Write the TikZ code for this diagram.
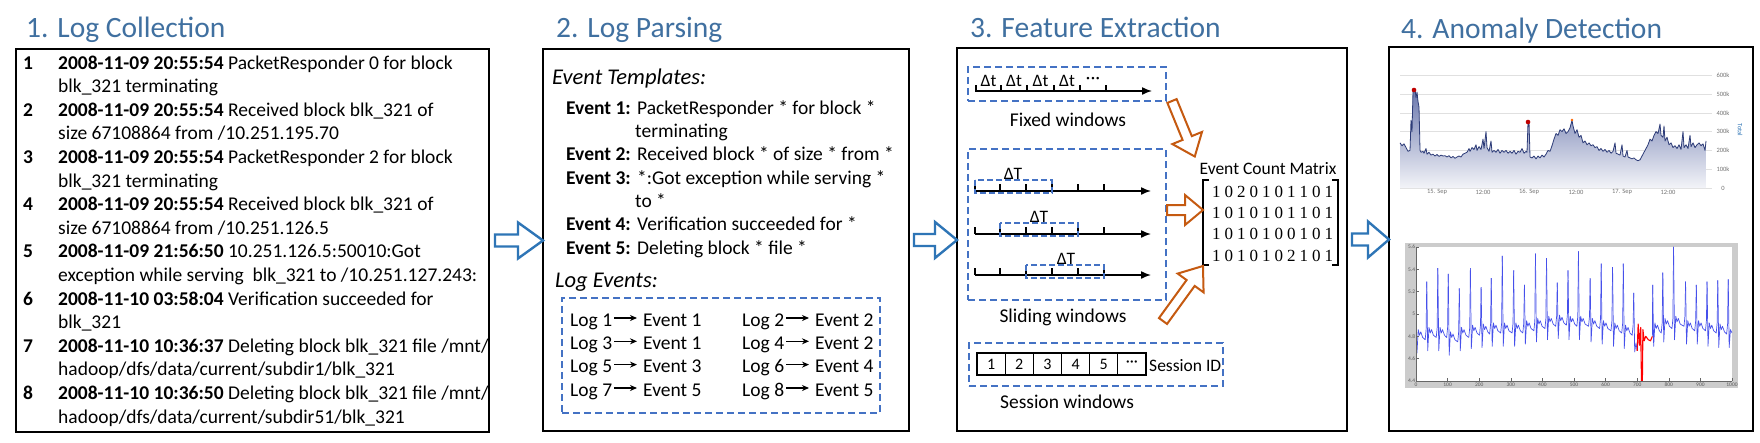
\documentclass[tikz,border=0pt]{standalone}
\usepackage{fontspec}
\setmainfont{Carlito}
\newfontfamily\tnr{Liberation Serif}
\usetikzlibrary{arrows.meta}
\definecolor{ttl}{RGB}{64,112,160}
\definecolor{dblue}{RGB}{68,114,196}
\definecolor{ablue}{RGB}{46,117,182}
\definecolor{aorange}{RGB}{197,90,17}
\definecolor{navy}{RGB}{45,60,120}
\definecolor{areatop}{RGB}{105,118,172}
\definecolor{sigc}{RGB}{70,80,235}
\newcommand\dg[1]{\makebox[12.5pt]{#1}}
\newcommand\chartA{1400/240,1402/225,1404/235,1406/215,1408/195,1410/200,1411/360,1412/300,1413/520,1415/525,1416/480,1417/510,1418/460,1419/430,1420/200,1421/190,1423/195,1424/185,1426/210,1427/180,1429/190,1431/175,1433/180,1435/170,1437/178,1439/168,1441/175,1443/170,1445/172,1447/165,1449/172,1451/160,1453/168,1455/158,1457/165,1459/170,1461/165,1463/180,1465/185,1467/190,1469/210,1470/195,1472/215,1474/205,1476/230,1477/200,1479/220,1481/205,1483/260,1484/210,1486/300,1487/215,1489/195,1491/250,1492/190,1494/200,1496/190,1498/205,1500/185,1502/200,1504/190,1506/200,1508/185,1510/195,1512/185,1514/200,1516/180,1518/195,1520/190,1522/210,1524/185,1526/195,1527/190,1528/350,1529/350,1530/165,1532/160,1534/170,1536/155,1538/170,1540/160,1542/175,1544/165,1546/180,1548/200,1550/195,1552/225,1554/260,1556/290,1558/280,1560/310,1562/300,1564/315,1566/290,1568/300,1570/320,1572/360,1573/330,1575/290,1577/310,1579/270,1581/280,1583/240,1585/250,1587/230,1589/240,1591/225,1593/230,1595/215,1597/220,1599/200,1601/210,1603/195,1605/205,1607/190,1609/200,1611/185,1613/195,1615/240,1616/185,1618/180,1620/175,1622/230,1623/170,1625/165,1627/200,1628/165,1630/160,1632/155,1634/160,1636/150,1638/145,1640/150,1642/170,1644/190,1646/210,1648/230,1650/260,1652/250,1654/280,1656/300,1658/290,1660/340,1661/280,1663/270,1664/330,1665/250,1667/270,1669/230,1671/240,1673/215,1675/225,1677/210,1679/230,1681/205,1683/300,1684/215,1686/230,1688/210,1690/280,1691/220,1693/240,1695/215,1697/230,1699/240,1701/225,1703/235,1705/200,1706/250}
\newcommand\sigA{34/5.29/4.82,69/5.41/4.82,102/5.36/4.78,137/5.23/4.82,172/5.41/4.84,206/5.24/4.85,238/5.32/4.86,273/5.52/4.86,309/5.39/4.86,343/5.26/4.88,378/5.54/4.90,413/5.50/4.92,447/5.28/4.93,481/5.39/4.92,514/5.56/4.92,551/5.32/4.90,586/5.45/4.88,622/5.42/4.86,656/5.45/4.84,689/5.19/4.80}
\newcommand\sigB{781/5.37/4.90,815/5.60/4.92,853/5.29/4.88,887/5.26/4.88,921/5.29/4.86,955/5.30/4.85,988/5.31/4.84}
\tikzset{
 pics/blockarrow/.style n args={4}{code={\path[pic actions] (0,#2) -- (#1-#4,#2) -- (#1-#4,#3) -- (#1,0) -- (#1-#4,-#3) -- (#1-#4,-#2) -- (0,-#2) -- cycle;}},
 panel/.style={draw=black, line width=1.6pt, fill=white, inner sep=0pt, outer sep=0pt},
 dbox/.style={draw=dblue, line width=1.6pt, dash pattern=on 7pt off 4pt, inner sep=0pt},
 sbox/.style={draw=dblue, line width=1.3pt, dash pattern=on 6pt off 3pt},
 ptitle/.style={anchor=base west, inner sep=0pt, text=ttl, font=\fontsize{29.5}{32}\selectfont},
 txt/.style={anchor=base west, inner sep=0pt, font=\fontsize{19.5}{22}\selectfont},
 btxt/.style={anchor=base west, inner sep=0pt, font=\fontsize{19.5}{22}\selectfont\bfseries},
 itxt/.style={anchor=base west, inner sep=0pt, font=\fontsize{22.5}{25}\selectfont\itshape},
 ctxt/.style={anchor=base, inner sep=0pt, font=\fontsize{19.5}{22}\selectfont},
 dlab/.style={anchor=base, inner sep=0pt, font=\fontsize{17.5}{20}\selectfont},
 bluearrow/.style={draw=ablue, fill=white, line width=2.4pt},
 orangearrow/.style={draw=aorange, fill=white, line width=2pt},
 axisarrow/.style={line width=1.5pt, -{Latex[length=10pt,width=8pt]}},
 tk/.style={line width=1.2pt},
 maparrow/.style={line width=1.3pt, -{Stealth[length=7pt,width=6pt]}},
 cellbox/.style={draw, line width=1.2pt, minimum width=28.17pt, minimum height=22pt, inner sep=0pt, font=\fontsize{16}{18}\selectfont},
 mrow/.style={anchor=base west, inner sep=0pt, font=\tnr\fontsize{17}{19}\selectfont},
 tinylab/.style={inner sep=0pt, font=\fontsize{6.5}{7}\selectfont, text=black!55},
 gridc/.style={draw=black!12, line width=0.6pt},
 sigline/.style={draw=sigc, line width=0.7pt, line join=round},
}
\begin{document}
\begin{tikzpicture}[x=1pt,y=-1pt]
\useasboundingbox (0,0) rectangle (1760,442);
\fill[white] (0,0) rectangle (1760,442);

% ---------- panels ----------
\node[panel, minimum width=473pt, minimum height=383pt] (p1) at (252.5,240.5) {};
\node[panel, minimum width=366pt, minimum height=382pt] (p2) at (726,240) {};
\node[panel, minimum width=390pt, minimum height=383pt] (p3) at (1152,239.5) {};
\node[panel, line width=2.2pt, minimum width=364pt, minimum height=384pt] (p4) at (1571,239) {};

\node[ptitle] (t1) at (26,37) {1. Log Collection};
\node[ptitle] (t2) at (556,37) {2. Log Parsing};
\node[ptitle] (t3) at (970,37) {3. Feature Extraction};
\node[ptitle] (t4) at (1401,38) {4. Anomaly Detection};

% ---------- panel 1 ----------
\node[btxt] (n1) at (23,69) {1};
\node[txt] (a1) at (58,69) {\textbf{2008-11-09 20:55:54} PacketResponder 0 for block};
\node[txt] (b1) at (58,92.6) {blk\_321 terminating};
\node[btxt] (n2) at (23,116.2) {2};
\node[txt] (a2) at (58,116.2) {\textbf{2008-11-09 20:55:54} Received block blk\_321 of};
\node[txt] (b2) at (58,139.8) {size 67108864 from /10.251.195.70};
\node[btxt] (n3) at (23,163.4) {3};
\node[txt] (a3) at (58,163.4) {\textbf{2008-11-09 20:55:54} PacketResponder 2 for block};
\node[txt] (b3) at (58,187) {blk\_321 terminating};
\node[btxt] (n4) at (23,210.6) {4};
\node[txt] (a4) at (58,210.6) {\textbf{2008-11-09 20:55:54} Received block blk\_321 of};
\node[txt] (b4) at (58,234.2) {size 67108864 from /10.251.126.5};
\node[btxt] (n5) at (23,257.8) {5};
\node[txt] (a5) at (58,257.8) {\textbf{2008-11-09 21:56:50} 10.251.126.5:50010:Got};
\node[txt] (b5) at (58,281.4) {exception while serving\ \ blk\_321 to /10.251.127.243:};
\node[btxt] (n6) at (23,305) {6};
\node[txt] (a6) at (58,305) {\textbf{2008-11-10 03:58:04} Verification succeeded for};
\node[txt] (b6) at (58,328.6) {blk\_321};
\node[btxt] (n7) at (23,352.2) {7};
\node[txt] (a7) at (58,352.2) {\textbf{2008-11-10 10:36:37} Deleting block blk\_321 file /mnt/};
\node[txt] (b7) at (58,375.8) {hadoop/dfs/data/current/subdir1/blk\_321};
\node[btxt] (n8) at (23,399.4) {8};
\node[txt] (a8) at (58,399.4) {\textbf{2008-11-10 10:36:50} Deleting block blk\_321 file /mnt/};
\node[txt] (b8) at (58,423) {hadoop/dfs/data/current/subdir51/blk\_321};

% ---------- panel 2 ----------
\node[itxt] (et) at (552,84) {Event Templates:};
\node[btxt] (e1) at (566,114) {Event 1:};
\node[txt] (e1t) at (637,114) {PacketResponder * for block *};
\node[txt] (e1u) at (635,137.3) {terminating};
\node[btxt] (e2) at (566,160.6) {Event 2:};
\node[txt] (e2t) at (637,160.6) {Received block * of size * from *};
\node[btxt] (e3) at (566,184) {Event 3:};
\node[txt] (e3t) at (637,184) {*:Got exception while serving *};
\node[txt] (e3u) at (635,207.3) {to *};
\node[btxt] (e4) at (566,230.6) {Event 4:};
\node[txt] (e4t) at (637,230.6) {Verification succeeded for *};
\node[btxt] (e5) at (566,254) {Event 5:};
\node[txt] (e5t) at (637,254) {Deleting block * file *};
\node[itxt] (le) at (555,287) {Log Events:};
\node[dbox, minimum width=318pt, minimum height=115pt] (lebox) at (721,355.5) {};
\foreach \r/\la/\ea/\lb/\eb/\yy in {1/1/1/2/2/326, 2/3/1/4/2/349.3, 3/5/3/6/4/372.6, 4/7/5/8/5/396}{
  \node[txt] (la\r) at (570,\yy) {Log \la};
  \node[txt] (ea\r) at (643,\yy) {Event \ea};
  \node[txt] (lb\r) at (742,\yy) {Log \lb};
  \node[txt] (eb\r) at (815,\yy) {Event \eb};
  \draw[maparrow, shorten <=2pt, shorten >=6pt] ([yshift=8pt]la\r.base east) -- ([yshift=8pt]ea\r.base west);
  \draw[maparrow, shorten <=2pt, shorten >=6pt] ([yshift=8pt]lb\r.base east) -- ([yshift=8pt]eb\r.base west);
}

% ---------- panel 3 ----------
\node[dbox, minimum width=198pt, minimum height=34pt] (fw) at (1067,84) {};
\draw[axisarrow] (975,91) -- (1152,91);
\foreach \xx in {976,1001,1027,1054,1080,1106} \draw[tk] (\xx,91) -- (\xx,85);
\foreach \xx in {988.5,1014,1040.5,1067} \node[dlab] at (\xx,86) {Δt};
\node[dlab] (dots) at (1093,83) {·\kern0.5pt·\kern0.5pt·};
\node[ctxt] (fwl) at (1068,126) {Fixed windows};

\node[dbox, minimum width=198pt, minimum height=151pt] (sw) at (1067,224.5) {};
\foreach \yy in {191,234,275}{
  \draw[axisarrow] (975,\yy) -- (1151,\yy);
  \foreach \xx in {975,1000,1026,1052,1078,1104} \draw[tk] (\xx,\yy) -- (\xx,\yy-7);
}
\draw[sbox] (975,180) rectangle (1052,193);
\draw[sbox] (1000,223) rectangle (1078,236);
\draw[sbox] (1026,265) rectangle (1104,278);
\node[dlab] (dT1) at (1013,179) {ΔT};
\node[dlab] (dT2) at (1039,222) {ΔT};
\node[dlab] (dT3) at (1066,264) {ΔT};
\node[ctxt] (swl) at (1063,322) {Sliding windows};

\node[dbox, minimum width=254pt, minimum height=43pt] (ssw) at (1096,364.5) {};
\foreach \i/\lab in {0/1,1/2,2/3,3/4,4/5,5/{···}}
  \node[cellbox] (c\i) at (991.1+28.17*\i,364) {\lab};
\node[anchor=west, inner sep=0pt, font=\fontsize{17.5}{20}\selectfont] (sid) at (1149,366) {Session ID};
\node[ctxt] (sswl) at (1067,408) {Session windows};

\node[anchor=base, inner sep=0pt, font=\fontsize{17.5}{20}\selectfont] (ecm) at (1268,174) {Event Count Matrix};
\node[mrow] (r1) at (1210,197) {\dg1\dg0\dg2\dg0\dg1\dg0\dg1\dg1\dg0\dg1};
\node[mrow] (r2) at (1210,218.3) {\dg1\dg0\dg1\dg0\dg1\dg0\dg1\dg1\dg0\dg1};
\node[mrow] (r3) at (1210,239.7) {\dg1\dg0\dg1\dg0\dg1\dg0\dg0\dg1\dg0\dg1};
\node[mrow] (r4) at (1210,261) {\dg1\dg0\dg1\dg0\dg1\dg0\dg2\dg1\dg0\dg1};
\draw[line width=1.3pt] (1209,180) -- (1203,180) -- (1203,265) -- (1209,265);
\draw[line width=1.3pt] (1332,180) -- (1338,180) -- (1338,265) -- (1332,265);

\pic[orangearrow, rotate=-67.7] at (1172,101) {blockarrow={60}{5}{16}{20}};
\pic[orangearrow] at (1167,210) {blockarrow={36}{5}{15}{18}};
\pic[orangearrow, rotate=54] at (1163,321) {blockarrow={68}{5}{16}{21}};

% ---------- panel connectors ----------
\pic[bluearrow] at ([xshift=6pt]p1.east) {blockarrow={48}{6}{18}{25}};
\pic[bluearrow] at ([xshift=5pt]p2.east) {blockarrow={43}{6}{18}{22}};
\pic[bluearrow] at ([xshift=5pt]p3.east) {blockarrow={37}{6}{18}{21}};

% ---------- panel 4: chart 1 ----------
\begin{scope}[shift={(0,188)}, y=0.188pt]
  \foreach \v in {0,100,...,600} \draw[gridc] (1400,\v) -- (1712,\v);
  \shade[top color=areatop, bottom color=white!92!areatop] (1400,0) \foreach \x/\v in \chartA {-- (\x,\v)} -- (1706,0) -- cycle;
  \draw[navy, line width=0.8pt, line join=round] (1400,240) \foreach \x/\v in \chartA {-- (\x,\v)};
  \foreach \v/\lab in {0/0,100/100k,200/200k,300/300k,400/400k,500/500k,600/600k}
    \node[tinylab] at (1723,\v) {\lab};
  \foreach \x/\lab in {1437/15. Sep,1483/12:00,1529/16. Sep,1576/12:00,1622/17. Sep,1668/12:00}
    \node[tinylab] at (\x,-22) {\lab};
\end{scope}
\fill[red!75!black] (1414,90) circle[radius=2.3];
\fill[red!75!black] (1528,122) circle[radius=2.3];
\fill[orange!80!red] (1572,120) circle[radius=1.4];
\node[tinylab, text=ablue, rotate=-90] (tot) at (1740,130) {Total};

% ---------- panel 4: chart 2 ----------
\fill[black!20] (1405,243) rectangle (1738,388);
\fill[white] (1416,247) rectangle (1732,381);
\begin{scope}[shift={(1416,872.48)}, x=0.316pt, y=111.7pt]
  \begin{scope}
    \clip (0,4.4) rectangle (1000,5.6);
    \foreach \x/\p/\b [remember=\x as \lx (initially 0), remember=\p as \lp (initially 4.72), remember=\b as \lb (initially 4.80)] in \sigA
      {\draw[sigline] (\lx,\lp) -- (\lx+3,\lb-0.15) -- (\lx+7,\lb+0.06) -- (\lx+11,\lb+0.01) -- (\lx+15,\lb+0.04) -- (\lx+21,\lb-0.01) -- (\x-5,\lb-0.03) -- (\x-2,\lb+0.06) -- (\x,\p);}
    \draw[sigline] (689,5.19) -- (692,4.66) -- (696,4.74) -- (700,4.67);
    \draw[red, line width=1.1pt, line join=round] (700,4.67) -- (703,4.91) -- (707,4.72) -- (711,4.88) -- (714,4.3) -- (716,4.3) -- (718,4.86) -- (722,4.76) -- (727,4.80) -- (735,4.77) -- (742,4.76) -- (748,4.80);
    \draw[sigline] (748,4.80) -- (749,5.26);
    \foreach \x/\p/\b [remember=\x as \lx (initially 749), remember=\p as \lp (initially 5.26), remember=\b as \lb (initially 4.86)] in \sigB
      {\draw[sigline] (\lx,\lp) -- (\lx+3,\lb-0.15) -- (\lx+7,\lb+0.06) -- (\lx+11,\lb+0.01) -- (\lx+15,\lb+0.04) -- (\lx+21,\lb-0.01) -- (\x-5,\lb-0.03) -- (\x-2,\lb+0.06) -- (\x,\p);}
    \draw[sigline] (988,5.31) -- (991,4.70) -- (995,4.86) -- (1000,4.83);
  \end{scope}
  \draw[black!60, line width=0.5pt] (0,5.6) -- (0,4.4) -- (1000,4.4);
  \foreach \v in {4.4,4.6,...,5.61} \draw[black!60, line width=0.4pt] (0,\v) -- (8,\v);
  \foreach \x in {0,100,...,1000} \draw[black!60, line width=0.4pt] (\x,4.4) -- (\x,4.43);
  \foreach \v/\lab in {4.4/4.4,4.6/4.6,4.8/4.8,5/5,5.2/5.2,5.4/5.4,5.6/5.6}
    \node[tinylab, anchor=east, font=\fontsize{5.5}{6}\selectfont, text=black!65] at (-2,\v) {\lab};
  \foreach \x in {0,100,...,1000}
    \node[tinylab, anchor=north, font=\fontsize{5.5}{6}\selectfont, text=black!65] at (\x,4.385) {\x};
\end{scope}
\end{tikzpicture}
\end{document}
